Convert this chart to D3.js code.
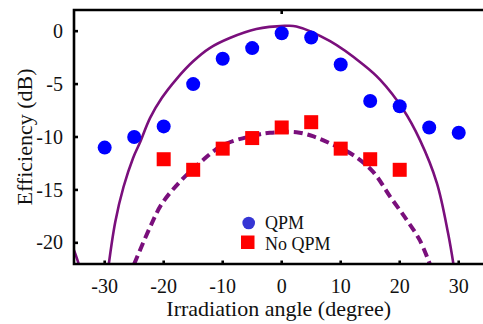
<!DOCTYPE html>
<html>
<head>
<meta charset="utf-8">
<script src="https://cdn.jsdelivr.net/npm/d3@7"></script>
<style>
  body { margin: 0; background: #ffffff; }
</style>
</head>
<body>
<svg id="chart" width="483" height="324"></svg>
<script>
// measured points (angle in degree, efficiency in dB)
let angles = [-30, -25, -20, -15, -10, -5, 0, 5, 10, 15, 20, 25, 30]
let qpmValues = [-11, -10, -9, -5, -2.6, -1.6, -0.2, -0.6, -3.15, -6.6, -7.1, -9.1, -9.6]

let noQpmAngles = [-20, -15, -10, -5, 0, 5, 10, 15, 20]
let noQpmValues = [-12.1, -13.1, -11.1, -10.1, -9.1, -8.6, -11.1, -12.1, -13.1]

// calculated curves
let solidAngles = [-29.3, -28.2, -26.8, -25.2, -24.0, -22.3, -20.3, -17.8, -15, -12.2, -8.8, -4.3, 0.5, 2.5, 8.2, 13.8, 16.7, 20.6, 23.4, 26.3, 28.2, 29.1]
let solidValues = [-22, -18, -14.7, -12.0, -10.5, -8.2, -6.3, -4.5, -2.85, -1.6, -0.65, 0.2, 0.5, 0.45, -0.95, -3.15, -4.6, -7.4, -10.25, -14.35, -19.1, -22]
let solidTailAngles = [-35.6, -35.0, -34.4]
let solidTailValues = [-20.2, -21.0, -22]

let dashAngles = [-25.0, -22.3, -20.3, -17.2, -13.8, -9.9, -4.2, -2, 2.5, 5.4, 8.2, 12.1, 15.5, 18.4, 21.2, 23.4, 25.1]
let dashValues = [-22, -18.5, -16.3, -14.2, -12.4, -10.75, -9.8, -9.6, -9.55, -9.95, -10.6, -11.7, -13.3, -15.65, -17.85, -19.75, -22]

let xTicks = [-30, -20, -10, 0, 10, 20, 30]
let yTicks = [0, -5, -10, -15, -20]
let legendNames = ["QPM", "No QPM"]

let svg = d3.select("#chart")
let plotLeft = 74, plotTop = 10, plotBottom = 264, plotRight = 489.4
let serif = "Liberation Serif, DejaVu Serif"

let x = d3.scaleLinear().domain([-35.2, 35.2]).range([plotLeft, plotRight])
let y = d3.scaleLinear().domain([-22, 2]).range([plotBottom, plotTop])

let purple = "#7a0f7c"

svg.append("rect").attr("width", 483).attr("height", 324).attr("fill", "#ffffff")

svg.append("clipPath").attr("id", "plotClip")
  .append("rect").attr("x", plotLeft).attr("y", plotTop).attr("width", plotRight - plotLeft).attr("height", plotBottom - plotTop)

let plot = svg.append("g").attr("clip-path", "url(#plotClip)")

let line = d3.line()
  .x(d => x(d[0]))
  .y(d => y(d[1]))
  .curve(d3.curveCatmullRom.alpha(0.5))

//solid curve (QPM)
plot.append("path")
  .datum(d3.zip(solidAngles, solidValues))
  .attr("d", line)
  .attr("fill", "none").attr("stroke", purple).attr("stroke-width", 2.6)
plot.append("path")
  .datum(d3.zip(solidTailAngles, solidTailValues))
  .attr("d", line)
  .attr("fill", "none").attr("stroke", purple).attr("stroke-width", 2.6)

//dashed curve (no QPM)
plot.append("path")
  .datum(d3.zip(dashAngles, dashValues))
  .attr("d", line)
  .attr("fill", "none").attr("stroke", purple).attr("stroke-width", 4)
  .attr("stroke-dasharray", "9,5")

//markers
plot.selectAll(".qpm")
  .data(d3.zip(angles, qpmValues))
  .enter()
  .append("circle")
  .attr("class", "qpm")
  .attr("cx", d => x(d[0]))
  .attr("cy", d => y(d[1]))
  .attr("r", 7)
  .attr("fill", "#0000ff")

let sq = 14
plot.selectAll(".noqpm")
  .data(d3.zip(noQpmAngles, noQpmValues))
  .enter()
  .append("rect")
  .attr("class", "noqpm")
  .attr("x", d => x(d[0]) - sq / 2)
  .attr("y", d => y(d[1]) - sq / 2)
  .attr("width", sq).attr("height", sq)
  .attr("fill", "#ff0000")

//frame
let frame = svg.append("g").attr("stroke", "#000").attr("stroke-width", 2.6).attr("fill", "none")
frame.append("path").attr("d", `M${plotRight},${plotTop}H${plotLeft}V${plotBottom}H${plotRight}`)

//ticks (inward)
svg.selectAll(".ytick")
  .data(yTicks)
  .enter()
  .append("line")
  .attr("x1", plotLeft).attr("x2", plotLeft + 4)
  .attr("y1", d => y(d)).attr("y2", d => y(d))
  .attr("stroke", "#000").attr("stroke-width", 2.6)

svg.selectAll(".xtick")
  .data(xTicks)
  .enter()
  .append("line")
  .attr("x1", d => x(d)).attr("x2", d => x(d))
  .attr("y1", plotBottom).attr("y2", plotBottom - 3.5)
  .attr("stroke", "#000").attr("stroke-width", 2.6)

svg.append("line")
  .attr("x1", x(0)).attr("x2", x(0))
  .attr("y1", plotTop).attr("y2", plotTop + 4)
  .attr("stroke", "#000").attr("stroke-width", 2.6)

//tick labels
svg.selectAll(".ylabel")
  .data(yTicks)
  .enter()
  .append("text")
  .attr("x", 63)
  .attr("y", d => y(d))
  .attr("dy", "0.33em")
  .attr("text-anchor", "end")
  .style("font-family", serif)
  .attr("font-size", 20)
  .attr("fill", "#111")
  .text(d => d)

svg.selectAll(".xlabel")
  .data(xTicks)
  .enter()
  .append("text")
  .attr("x", d => x(d))
  .attr("y", 293)
  .attr("text-anchor", "middle")
  .style("font-family", serif)
  .attr("font-size", 20)
  .attr("fill", "#111")
  .text(d => d)

//axis titles
svg.append("text")
  .attr("x", x(0) - 3)
  .attr("y", 316)
  .attr("text-anchor", "middle")
  .style("font-family", serif)
  .attr("font-size", 22)
  .attr("fill", "#111")
  .text("Irradiation angle (degree)")

svg.append("text")
  .attr("transform", "translate(32,137) rotate(-90)")
  .attr("text-anchor", "middle")
  .style("font-family", serif)
  .attr("font-size", 22)
  .attr("fill", "#111")
  .text("Efficiency (dB)")

//legend
svg.append("circle").attr("cx", 248.7).attr("cy", 223).attr("r", 6.3).attr("fill", "#3535d4")
svg.append("rect").attr("x", 241).attr("y", 235.5).attr("width", 13.5).attr("height", 13.5).attr("fill", "#ff0000")
svg.selectAll(".legend")
  .data(legendNames)
  .enter()
  .append("text")
  .attr("x", 265)
  .attr("y", (d, i) => 229 + i * 20.5)
  .style("font-family", serif)
  .attr("font-size", 18)
  .attr("fill", "#111")
  .text(d => d)
</script>
</body>
</html>
